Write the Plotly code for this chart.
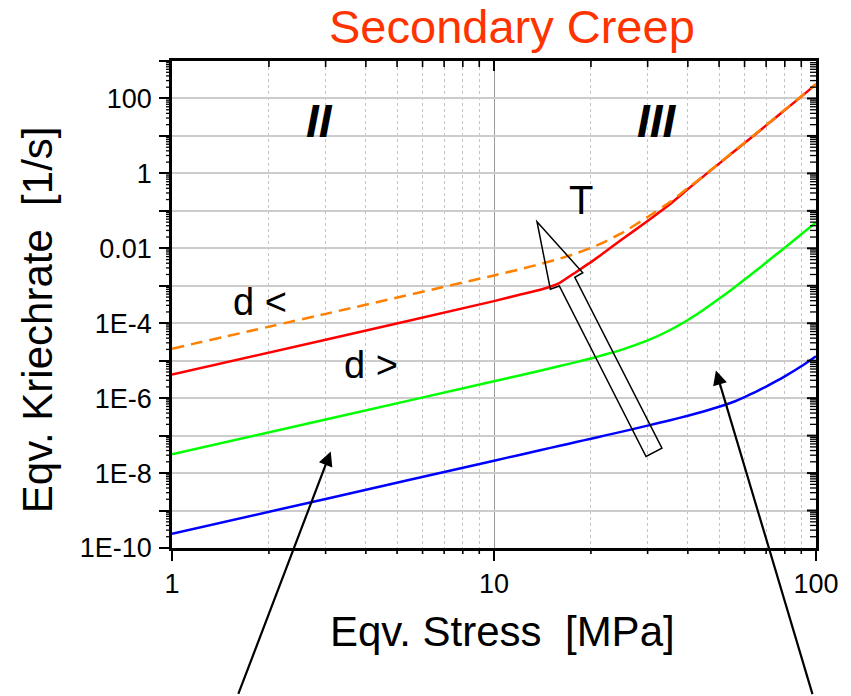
import math
import plotly.graph_objects as go

# ---------------- data ----------------
stress = [1, 3, 10, 12, 14, 16, 18, 20, 22, 25, 30, 35, 40, 45, 50, 55, 60, 65, 70, 80, 90, 100]

rate_red = [4.27e-6, 3.63e-5, 3.89e-4, 5.75e-4, 7.94e-4, 1.20e-3, 2.34e-3, 4.27e-3, 7.76e-3,
            1.74e-2, 5.37e-2, 0.145, 0.380, 0.871, 1.82, 3.55, 6.46, 11.2, 19.1, 49.0, 112, 240]
rate_orange = [2.09e-5, 1.78e-4, 1.89e-3, 2.74e-3, 3.85e-3, 5.30e-3, 7.33e-3, 1.03e-2, 1.47e-2,
               2.57e-2, 6.84e-2, 0.166, 0.407, 0.891, 1.86, 3.63, 6.61, 11.5, 19.5, 50.1, 115, 240]
rate_green = [3.16e-8, 2.69e-7, 2.82e-6, 4.04e-6, 5.48e-6, 7.18e-6, 9.16e-6, 1.15e-5, 1.44e-5,
              1.98e-5, 3.47e-5, 6.40e-5, 1.22e-4, 2.36e-4, 4.48e-4, 8.24e-4, 1.46e-3, 2.51e-3,
              4.16e-3, 1.04e-2, 2.36e-2, 4.92e-2]
rate_blue = [2.40e-10, 2.04e-9, 2.14e-8, 3.05e-8, 4.12e-8, 5.36e-8, 6.73e-8, 8.28e-8, 9.98e-8,
             1.28e-7, 1.85e-7, 2.54e-7, 3.38e-7, 4.47e-7, 5.89e-7, 7.76e-7, 1.07e-6, 1.48e-6,
             2.04e-6, 3.80e-6, 7.08e-6, 1.32e-5]

x_tickvals = [1, 10, 100]
x_ticktext = ["1", "10", "100"]
y_exponents = list(range(-10, 4))
y_ticktext = {-10: "1E-10", -8: "1E-8", -6: "1E-6", -4: "1E-4", -2: "0.01", 0: "1", 2: "100"}

title_text = "Secondary Creep"
x_title = "Eqv. Stress \u00a0[MPa]"
y_title = "Eqv. Kriechrate \u00a0[1/s]"

# ---------------- styling ----------------
FONT = "Arial, Liberation Sans, sans-serif"
X_RANGE = [0, 2]      # log10 range of the x axis
Y_RANGE = [-10, 3]    # log10 range of the y axis
y_tickvals = [10.0 ** e for e in y_exponents]
y_labels = [y_ticktext.get(e, "") for e in y_exponents]
x_minor = [d * 10 ** e for e in range(0, 2) for d in range(2, 10)]
y_minor = [d * 10.0 ** e for e in range(-10, 3) for d in range(2, 10)]

SPL = dict(shape="spline", smoothing=0.4)
fig = go.Figure()
fig.add_trace(go.Scatter(x=stress, y=rate_blue, mode="lines",
                         line=dict(color="#0000FF", width=2.5, **SPL), showlegend=False))
fig.add_trace(go.Scatter(x=stress, y=rate_green, mode="lines",
                         line=dict(color="#00FF00", width=2.5, **SPL), showlegend=False))
fig.add_trace(go.Scatter(x=stress, y=rate_red, mode="lines",
                         line=dict(color="#FF0000", width=2.5, **SPL), showlegend=False))
fig.add_trace(go.Scatter(x=stress, y=rate_orange, mode="lines",
                         line=dict(color="#FF8000", width=2.5, dash="12px,7px", **SPL),
                         showlegend=False))

fig.update_layout(
    width=851, height=696,
    margin=dict(l=172, r=31, t=61, b=148),
    paper_bgcolor="white", plot_bgcolor="white",
    font=dict(family=FONT, color="black"),
    xaxis=dict(type="log", range=X_RANGE, tickmode="array", tickvals=x_tickvals, ticktext=x_ticktext,
               ticks="outside", ticklen=10, tickwidth=2, tickcolor="black",
               showline=True, linewidth=2.5, linecolor="black", mirror=True,
               showgrid=True, gridcolor="#9a9a9a", gridwidth=1, zeroline=False,
               tickfont=dict(size=27, family=FONT),
               minor=dict(tickmode="array", tickvals=x_minor, ticks="", showgrid=True,
                          gridcolor="#c4c4c4", gridwidth=1, griddash="dot")),
    yaxis=dict(type="log", range=Y_RANGE, tickmode="array", tickvals=y_tickvals, ticktext=y_labels,
               ticks="outside", ticklen=10, tickwidth=2, tickcolor="black",
               showline=True, linewidth=2.5, linecolor="black", mirror=True,
               showgrid=True, gridcolor="#cccccc", gridwidth=1.5, zeroline=False,
               tickfont=dict(size=27, family=FONT), ticklabelstandoff=2),
)

# ---- tick marks: outside on left/bottom, inside on top/right (axis decoration, paper coords) ----
def px_(v):
    return (math.log10(v) - X_RANGE[0]) / (X_RANGE[1] - X_RANGE[0])

def py_(v):
    return (math.log10(v) - Y_RANGE[0]) / (Y_RANGE[1] - Y_RANGE[0])

tick_shapes = []
def tick(**kw):
    width = kw.pop("width")
    tick_shapes.append(dict(type="line", xref="paper", yref="paper",
                            line=dict(color="black", width=width), layer="above", **kw))

for v in y_minor:
    p = py_(v)
    tick(xsizemode="pixel", xanchor=0, x0=0, x1=-6, y0=p, y1=p, width=1.3)
    tick(xsizemode="pixel", xanchor=1, x0=0, x1=-6, y0=p, y1=p, width=1.3)
for v in y_tickvals[1:-1]:
    p = py_(v)
    tick(xsizemode="pixel", xanchor=1, x0=0, x1=-9, y0=p, y1=p, width=2)
for v in x_minor:
    p = px_(v)
    tick(ysizemode="pixel", yanchor=0, y0=0, y1=-6, x0=p, x1=p, width=1.6)
    tick(ysizemode="pixel", yanchor=1, y0=0, y1=-6, x0=p, x1=p, width=1.6)
tick(ysizemode="pixel", yanchor=1, y0=0, y1=-10, x0=px_(10), x1=px_(10), width=2)

# hollow block arrow "T"
arrow_pts = [(0.5668, 0.6699), (0.5875, 0.5313), (0.6014, 0.5381), (0.7361, 0.1879),
             (0.7608, 0.2051), (0.6255, 0.5559), (0.6378, 0.5653)]
path = "M " + " L ".join(f"{a} {b}" for a, b in arrow_pts) + " Z"
shapes = tick_shapes + [dict(type="path", path=path, xref="paper", yref="paper",
                             line=dict(color="black", width=1.5), fillcolor="rgba(0,0,0,0)",
                             layer="above")]
fig.update_layout(shapes=shapes)

ann = []
ann.append(dict(text=title_text, x=0.5278, y=1.0704, xref="paper", yref="paper",
                xanchor="center", yanchor="middle", showarrow=False,
                font=dict(size=47, color="#FF3300", family=FONT)))
ann.append(dict(text=x_title, x=0.5139, y=-0.1707, xref="paper", yref="paper",
                xanchor="center", yanchor="middle", showarrow=False,
                font=dict(size=42, family=FONT)))
ann.append(dict(text=y_title, x=-0.2076, y=0.4683, xref="paper", yref="paper",
                xanchor="center", yanchor="middle", showarrow=False, textangle=-90,
                font=dict(size=42, family=FONT)))
ann.append(dict(text="<b><i>II</i></b>", x=0.2284, y=0.8765, xref="paper", yref="paper",
                xanchor="center", yanchor="middle", showarrow=False, font=dict(size=46, family=FONT)))
ann.append(dict(text="<b><i>III</i></b>", x=0.7531, y=0.8765, xref="paper", yref="paper",
                xanchor="center", yanchor="middle", showarrow=False, font=dict(size=46, family=FONT)))
ann.append(dict(text="T", x=0.6358, y=0.7145, xref="paper", yref="paper",
                xanchor="center", yanchor="middle", showarrow=False, font=dict(size=40, family=FONT)))
ann.append(dict(text="d &lt;", x=0.1373, y=0.5052, xref="paper", yref="paper",
                xanchor="center", yanchor="middle", showarrow=False, font=dict(size=38, family=FONT)))
ann.append(dict(text="d &gt;", x=0.3094, y=0.376, xref="paper", yref="paper",
                xanchor="center", yanchor="middle", showarrow=False, font=dict(size=38, family=FONT)))
# line arrows pointing into the plot from below
ann.append(dict(text="", x=0.2465, y=0.1982, xref="paper", yref="paper", showarrow=True,
                ax=-93, ay=244, arrowhead=2, arrowsize=1.3, arrowwidth=2.2, arrowcolor="black",
                standoff=0))
ann.append(dict(text="", x=0.8446, y=0.3643, xref="paper", yref="paper", showarrow=True,
                ax=97, ay=325, arrowhead=2, arrowsize=1.3, arrowwidth=2.2, arrowcolor="black",
                standoff=0))
fig.update_layout(annotations=ann)

fig.write_html("out.html")
